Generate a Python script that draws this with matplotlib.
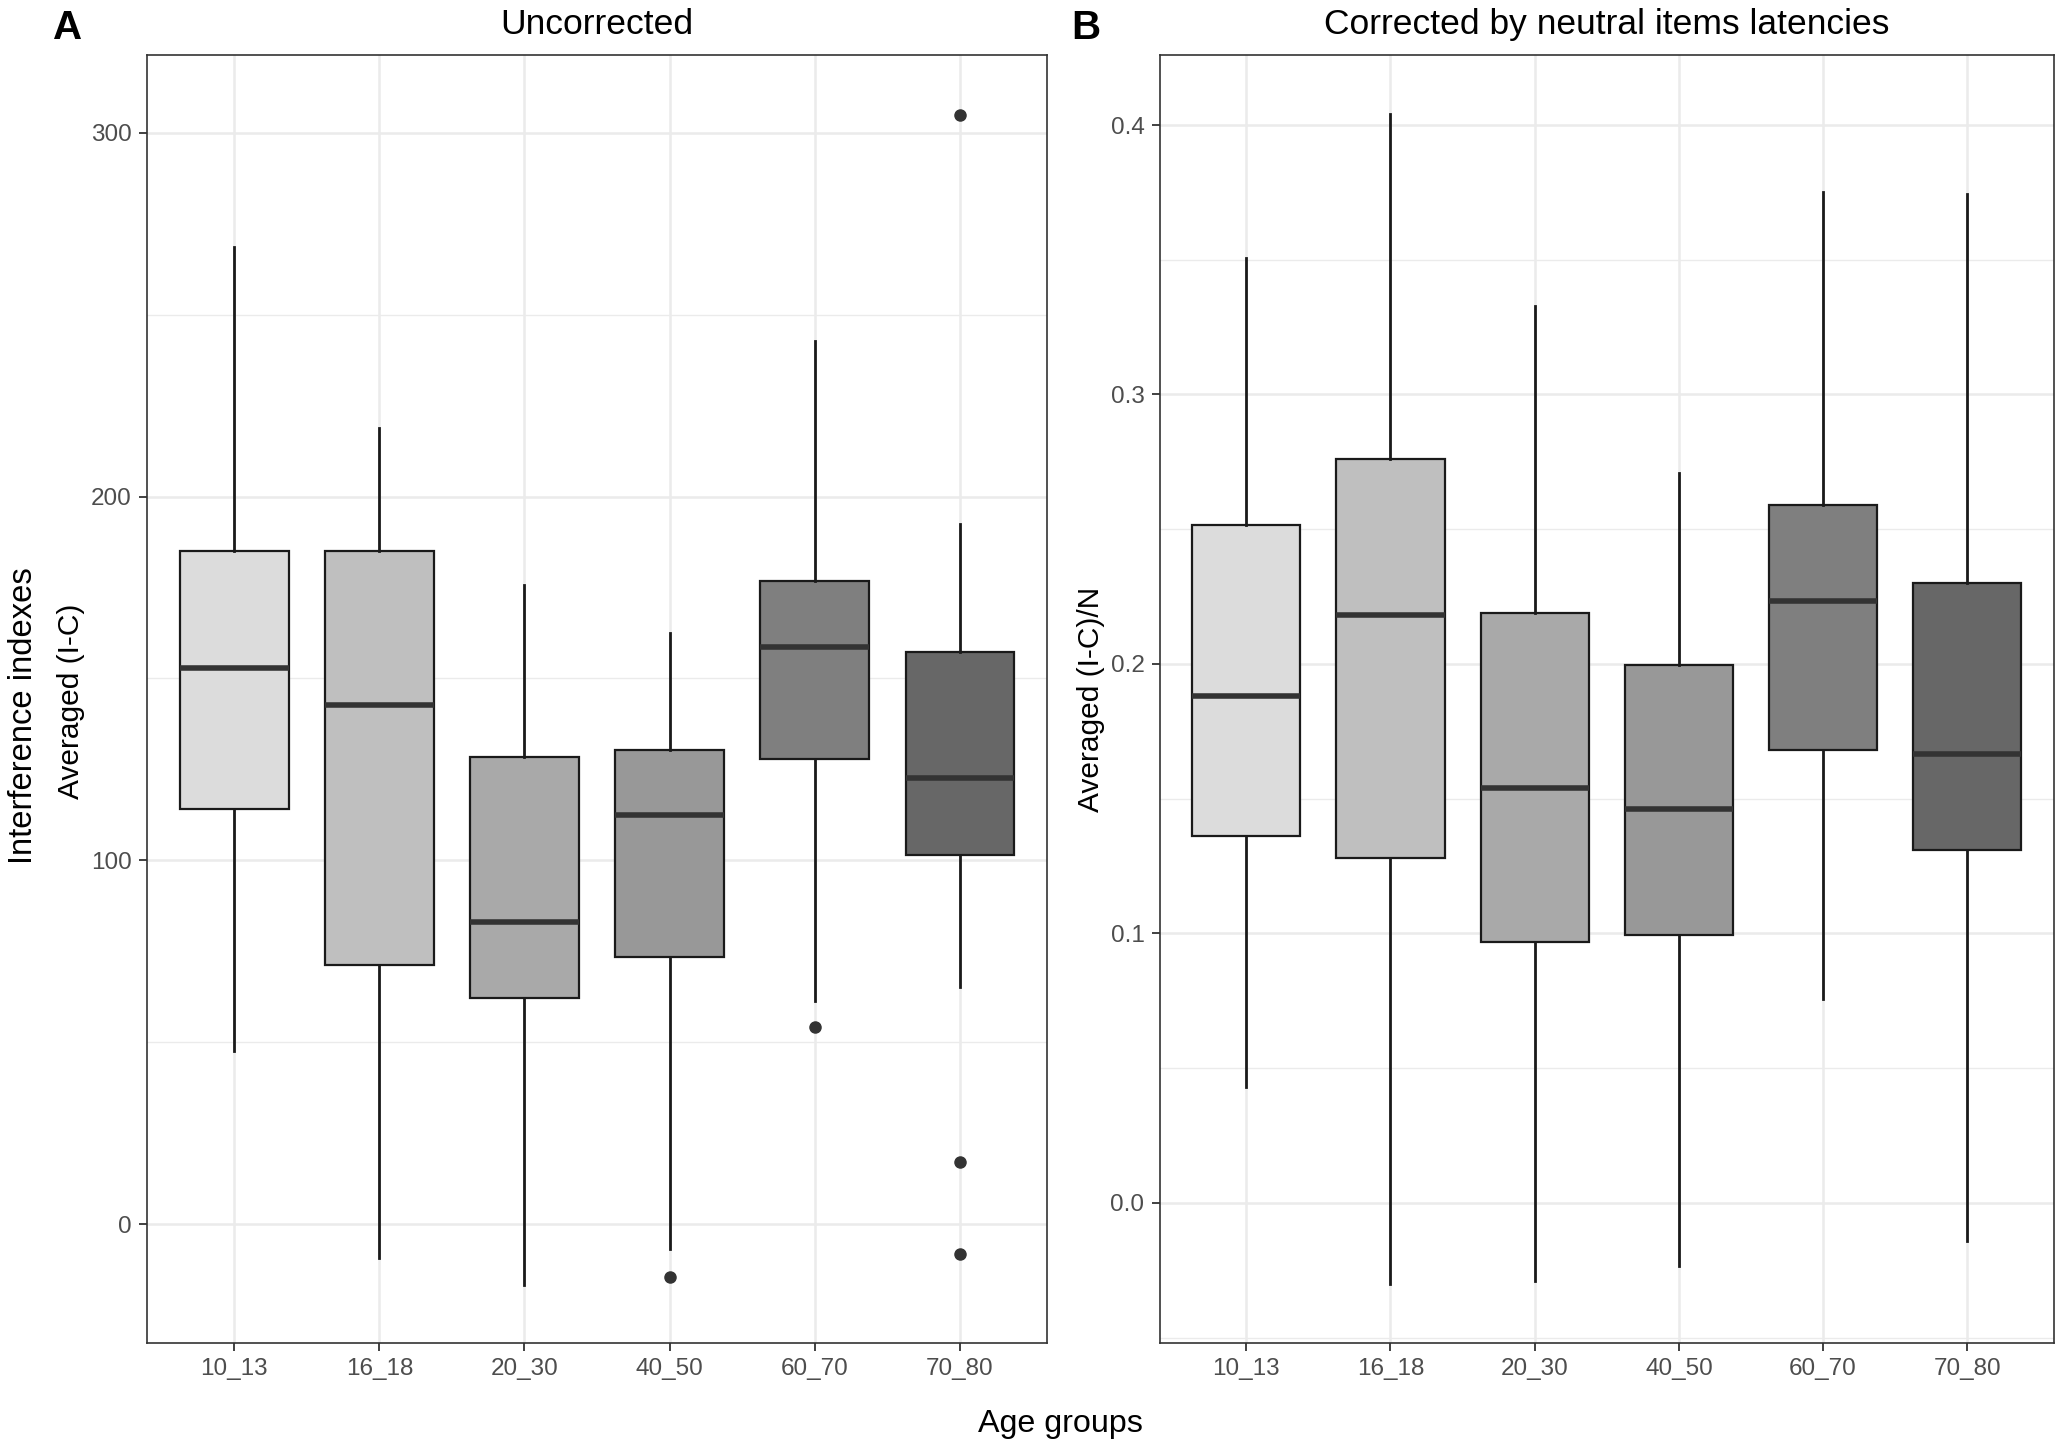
import matplotlib
matplotlib.use("Agg")
import matplotlib.pyplot as plt
from matplotlib.ticker import MultipleLocator

plt.rcParams['font.family'] = ['Liberation Sans', 'DejaVu Sans']

# Age groups and box colours
groups = ['10_13', '16_18', '20_30', '40_50', '60_70', '70_80']
fills = ['#dcdcdc', '#bfbfbf', '#a9a9a9', '#989898', '#7f7f7f', '#676767']

# Panel A: uncorrected interference (I-C)
a_low = [47.5, -9.4, -16.7, -6.9, 61.3, 65.3]
a_q1 = [114.0, 71.1, 62.1, 73.3, 127.8, 101.6]
a_med = [152.8, 142.6, 83.1, 112.5, 158.6, 122.7]
a_q3 = [185.1, 185.1, 128.5, 130.3, 176.8, 157.2]
a_high = [268.6, 218.9, 175.7, 162.6, 242.8, 192.4]
a_out = [[], [], [], [-14.5], [54.1], [304.9, 17.1, -8.3]]

# Panel B: corrected by neutral items latencies (I-C)/N
b_low = [0.043, -0.030, -0.029, -0.0235, 0.0755, -0.014]
b_q1 = [0.136, 0.128, 0.097, 0.0995, 0.168, 0.131]
b_med = [0.188, 0.218, 0.154, 0.146, 0.2235, 0.1667]
b_q3 = [0.2515, 0.276, 0.219, 0.1995, 0.259, 0.230]
b_high = [0.3505, 0.404, 0.333, 0.271, 0.375, 0.3745]
b_out = [[], [], [], [], [], []]


def draw_panel(ax, low, q1, med, q3, high, out, ylim, major, minor):
    stats = []
    for i in range(len(groups)):
        stats.append(dict(whislo=low[i], q1=q1[i], med=med[i], q3=q3[i],
                          whishi=high[i], fliers=out[i], label=groups[i]))
    bp = ax.bxp(stats, positions=range(1, len(groups) + 1), widths=0.75,
                patch_artist=True, showcaps=False,
                boxprops=dict(edgecolor='#1a1a1a', linewidth=1.6),
                whiskerprops=dict(color='#1a1a1a', linewidth=2.0),
                medianprops=dict(color='#333333', linewidth=4),
                flierprops=dict(marker='o', markerfacecolor='#333333',
                                markeredgecolor='#333333', markersize=8))
    for patch, c in zip(bp['boxes'], fills):
        patch.set_facecolor(c)
    ax.set_xlim(0.4, len(groups) + 0.6)
    ax.set_ylim(*ylim)
    ax.yaxis.set_major_locator(MultipleLocator(major))
    ax.yaxis.set_minor_locator(MultipleLocator(minor))
    ax.set_axisbelow(True)
    ax.grid(which='major', color='#ebebeb', linewidth=1.8)
    ax.grid(which='minor', axis='y', color='#ebebeb', linewidth=1.0)
    ax.tick_params(which='minor', length=0)
    ax.tick_params(which='major', length=6, width=1.3, color='#333333',
                   labelsize=17.5, labelcolor='#4d4d4d', pad=5)
    for s in ax.spines.values():
        s.set_color('#333333')
        s.set_linewidth(1.2)


fig = plt.figure(figsize=(20.71, 14.46), dpi=100)
ax1 = fig.add_axes([0.071, 0.0712, 0.4346, 0.8908])
ax2 = fig.add_axes([0.560, 0.0712, 0.4317, 0.8908])

draw_panel(ax1, a_low, a_q1, a_med, a_q3, a_high, a_out, (-32.7, 321.4), 100, 50)
draw_panel(ax2, b_low, b_q1, b_med, b_q3, b_high, b_out, (-0.052, 0.426), 0.1, 0.05)
ax1.yaxis.set_major_formatter(plt.FuncFormatter(lambda v, p: f'{v:.0f}'))
ax2.yaxis.set_major_formatter(plt.FuncFormatter(lambda v, p: f'{v:.1f}'))

ax1.set_title('Uncorrected', fontsize=25.5, pad=15)
ax2.set_title('Corrected by neutral items latencies', fontsize=25.5, pad=15)

# y labels placed by hand (two-line label on panel A)
fig.text(0.0112, 0.505, 'Interference indexes', rotation=90, fontsize=23.6,
         ha='center', va='center')
fig.text(0.0343, 0.515, 'Averaged (I-C)', rotation=90, fontsize=21.5,
         ha='center', va='center')
fig.text(0.527, 0.5165, 'Averaged (I-C)/N', rotation=90, fontsize=21.5,
         ha='center', va='center')

fig.text(0.512, 0.0097, 'Age groups', fontsize=23.2, ha='center', va='baseline')
fig.text(0.0328, 0.973, 'A', fontsize=29, fontweight='bold', ha='center', va='baseline')
fig.text(0.5244, 0.973, 'B', fontsize=29, fontweight='bold', ha='center', va='baseline')

fig.savefig('out.png', dpi=100)
